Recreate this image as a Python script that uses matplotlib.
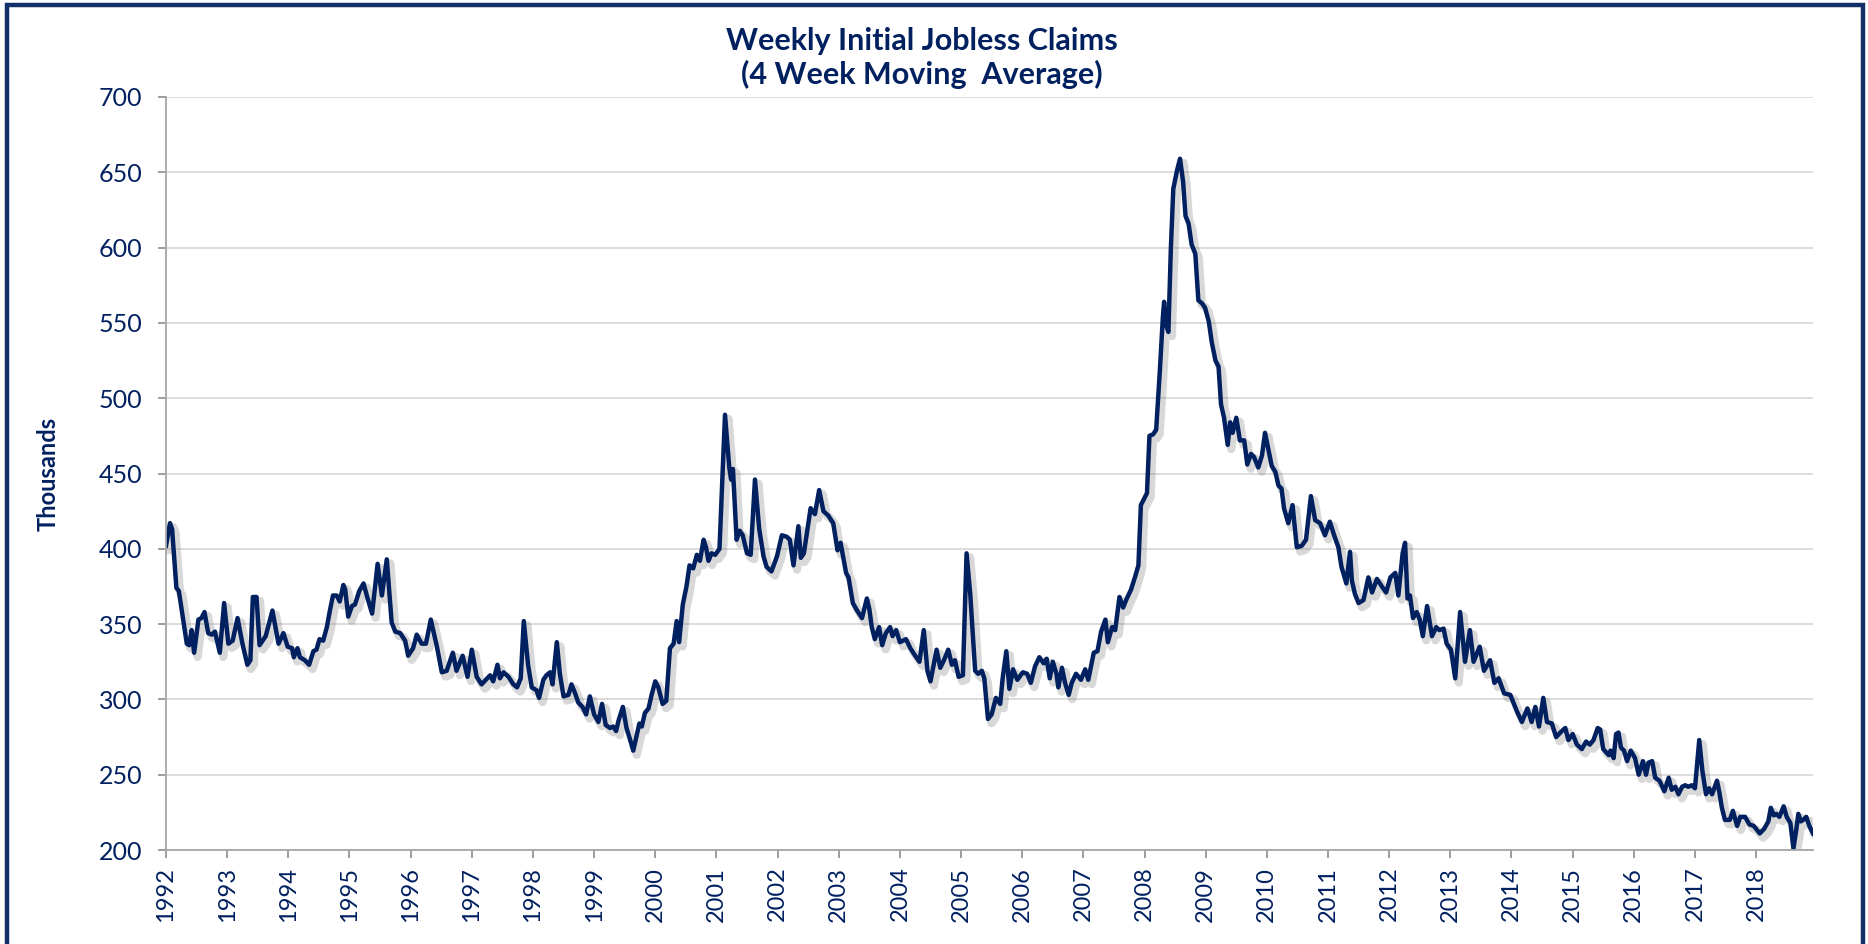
import matplotlib.pyplot as plt
import matplotlib.patheffects as pe
from matplotlib.patches import Rectangle

# 4-week moving average of weekly initial jobless claims (thousands)
dates = [
    1992.00, 1992.065, 1992.10, 1992.17, 1992.21, 1992.34, 1992.38, 1992.42, 1992.46, 1992.53,
    1992.58, 1992.63, 1992.69, 1992.75, 1992.80, 1992.88, 1992.95, 1993.02, 1993.09, 1993.17,
    1993.25, 1993.33, 1993.38, 1993.42, 1993.48, 1993.53, 1993.63, 1993.74, 1993.84, 1993.92,
    1993.99, 1994.06, 1994.09, 1994.15, 1994.19, 1994.27, 1994.34, 1994.41, 1994.46, 1994.51,
    1994.57, 1994.63, 1994.68, 1994.73, 1994.79, 1994.84, 1994.90, 1994.93, 1994.98, 1995.04,
    1995.09, 1995.16, 1995.23, 1995.29, 1995.37, 1995.46, 1995.53, 1995.61, 1995.69, 1995.75,
    1995.83, 1995.91, 1995.96, 1996.04, 1996.10, 1996.18, 1996.25, 1996.33, 1996.43,
    1996.51, 1996.59, 1996.69, 1996.75, 1996.85, 1996.93, 1997.00, 1997.08, 1997.16, 1997.30,
    1997.35, 1997.42, 1997.46, 1997.52, 1997.60, 1997.68, 1997.74, 1997.80, 1997.85, 1997.92,
    1997.98, 1998.06, 1998.10, 1998.17, 1998.22, 1998.28, 1998.32, 1998.39, 1998.44, 1998.50,
    1998.58, 1998.63, 1998.69, 1998.74, 1998.81, 1998.87, 1998.93, 1999.00, 1999.07, 1999.13,
    1999.19, 1999.26, 1999.31, 1999.36, 1999.40, 1999.47, 1999.53, 1999.59, 1999.64, 1999.70,
    1999.74, 1999.78, 1999.83, 1999.89, 1999.94, 2000.00, 2000.05, 2000.12, 2000.18, 2000.24,
    2000.30, 2000.35, 2000.39, 2000.45, 2000.51, 2000.56, 2000.62, 2000.68, 2000.73, 2000.79,
    2000.83, 2000.87, 2000.92, 2000.98, 2001.05,
    2001.14, 2001.21, 2001.24, 2001.27, 2001.33, 2001.38, 2001.43, 2001.50, 2001.56, 2001.63,
    2001.70, 2001.77, 2001.82, 2001.90, 2001.99, 2002.07, 2002.15, 2002.20, 2002.26, 2002.34,
    2002.38, 2002.43, 2002.54, 2002.61, 2002.68, 2002.75, 2002.83, 2002.91, 2002.98, 2003.03,
    2003.12, 2003.16, 2003.23, 2003.30, 2003.38, 2003.46, 2003.50, 2003.54, 2003.59, 2003.66,
    2003.71, 2003.77, 2003.84, 2003.88, 2003.94, 2004.00, 2004.10, 2004.17, 2004.25, 2004.32,
    2004.39, 2004.45, 2004.50, 2004.60, 2004.66, 2004.72, 2004.79, 2004.85, 2004.90, 2004.96,
    2005.03, 2005.09, 2005.15, 2005.23, 2005.28, 2005.34, 2005.38, 2005.44, 2005.50, 2005.57,
    2005.64, 2005.68, 2005.74, 2005.79, 2005.85, 2005.92, 2006.01, 2006.08, 2006.14, 2006.21,
    2006.28, 2006.35, 2006.40, 2006.45, 2006.50, 2006.56, 2006.59, 2006.65, 2006.70, 2006.76,
    2006.81, 2006.88, 2006.96, 2007.03, 2007.08, 2007.17, 2007.23, 2007.29, 2007.36, 2007.40,
    2007.47, 2007.52, 2007.59, 2007.65, 2007.71, 2007.78, 2007.85, 2007.90, 2007.94, 2007.99,
    2008.04, 2008.08, 2008.14, 2008.19, 2008.25, 2008.30, 2008.32, 2008.35, 2008.39, 2008.43,
    2008.47, 2008.53, 2008.58, 2008.63, 2008.67, 2008.72, 2008.77, 2008.83, 2008.88, 2008.94,
    2008.99, 2009.05, 2009.10, 2009.16, 2009.21, 2009.25, 2009.30, 2009.36, 2009.40, 2009.44,
    2009.50, 2009.56, 2009.63, 2009.68, 2009.74, 2009.79, 2009.86, 2009.92, 2009.97, 2010.03,
    2010.08, 2010.14, 2010.19,
    2010.24, 2010.28, 2010.35, 2010.42, 2010.49, 2010.57, 2010.64, 2010.72, 2010.79, 2010.87,
    2010.95, 2011.03, 2011.10, 2011.17, 2011.22, 2011.30, 2011.36, 2011.39, 2011.44, 2011.50,
    2011.58, 2011.66, 2011.72, 2011.80, 2011.88, 2011.95, 2012.02, 2012.10, 2012.15, 2012.22,
    2012.26, 2012.30, 2012.34, 2012.39, 2012.45, 2012.50, 2012.55, 2012.62, 2012.70, 2012.77,
    2012.82, 2012.89, 2012.94, 2013.01, 2013.08, 2013.16, 2013.24, 2013.32, 2013.38, 2013.48,
    2013.55, 2013.65, 2013.72, 2013.79, 2013.88, 2013.98, 2014.09, 2014.17, 2014.26, 2014.33,
    2014.39, 2014.45, 2014.52, 2014.58, 2014.66, 2014.73,
    2014.80, 2014.85, 2014.88, 2014.93, 2015.00, 2015.07, 2015.15, 2015.22, 2015.28, 2015.34,
    2015.41, 2015.45, 2015.50, 2015.59, 2015.62, 2015.67, 2015.71, 2015.75, 2015.79, 2015.84,
    2015.89, 2015.95, 2016.02, 2016.08, 2016.15, 2016.20, 2016.24, 2016.30, 2016.35, 2016.42,
    2016.50, 2016.57, 2016.62, 2016.68, 2016.73, 2016.79, 2016.84, 2016.89, 2016.95, 2017.00,
    2017.07, 2017.12, 2017.18, 2017.23, 2017.28, 2017.36, 2017.40, 2017.44, 2017.49, 2017.57,
    2017.62, 2017.69, 2017.74, 2017.82, 2017.89, 2017.96, 2018.06, 2018.13, 2018.20, 2018.24,
    2018.29, 2018.33, 2018.38, 2018.45, 2018.50, 2018.56, 2018.61, 2018.655, 2018.69, 2018.73,
    2018.77, 2018.82, 2018.87, 2018.93,
]

claims = [
    402, 417, 413, 374, 372, 337, 336, 346, 331, 353,
    354, 358, 344, 343, 345, 331, 364, 337, 339, 354,
    337, 323, 326, 368, 368, 336, 342, 359, 337, 344,
    335, 334, 328, 334, 328, 326, 323, 332, 333, 340,
    339, 348, 359, 369, 369, 365, 376, 373, 355, 362,
    363, 372, 377, 368, 357, 390, 369, 393, 351, 345,
    344, 339, 329, 334, 343, 337, 337, 353, 335,
    318, 319, 331, 319, 329, 315, 333, 315, 310, 316,
    312, 323, 314, 318, 315, 310, 308, 314, 352, 323,
    308, 306, 301, 313, 316, 318, 310, 338, 317, 302,
    303, 310, 304, 298, 295, 290, 302, 290, 285, 297,
    283, 281, 282, 279, 286, 295, 281, 273, 266, 277,
    284, 282, 291, 294, 303, 312, 308, 297, 299, 334,
    337, 352, 338, 363, 375, 389, 387, 396, 392, 406,
    401, 392, 397, 396, 400,
    489, 454, 446, 453, 406, 412, 409, 397, 396, 446,
    413, 395, 388, 385, 395, 409, 408, 406, 389, 415,
    394, 397, 427, 423, 439, 425, 422, 417, 399, 404,
    384, 381, 364, 359, 354, 367, 360, 348, 340, 348,
    336, 344, 348, 342, 346, 338, 340, 334, 329, 325,
    346, 319, 312, 333, 321, 326, 333, 323, 326, 315,
    316, 397, 370, 319, 317, 319, 314, 287, 290, 301,
    297, 314, 332, 307, 320, 313, 318, 317, 311, 322,
    328, 324, 327, 314, 325, 317, 308, 321, 311, 303,
    311, 317, 313, 320, 313, 331, 332, 345, 353, 338,
    348, 346, 368, 361, 367, 373, 382, 389, 429, 433,
    437, 475, 476, 479, 518, 554, 564, 549, 544, 599,
    639, 651, 659, 644, 621, 616, 602, 596, 565, 563,
    560, 551, 537, 525, 521, 496, 487, 469, 484, 477,
    487, 472, 472, 456, 463, 461, 454, 462, 477, 465,
    455, 451, 442,
    440, 427, 417, 429, 401, 402, 406, 435, 419, 417,
    409, 418, 409, 401, 388, 377, 398, 379, 370, 364,
    366, 381, 371, 380, 375, 371, 381, 384, 369, 397,
    404, 367, 369, 354, 358, 353, 342, 362, 342, 348,
    346, 347, 337, 333, 314, 358, 325, 346, 325, 335,
    319, 326, 311, 314, 304, 303, 292, 285, 294, 285,
    295, 282, 301, 285, 284, 275,
    278, 280, 281, 273, 277, 270, 267, 272, 270, 273,
    281, 280, 267, 263, 266, 261, 277, 278, 268, 266,
    259, 266, 261, 250, 259, 250, 258, 259, 248, 246,
    239, 248, 240, 242, 237, 242, 243, 242, 243, 241,
    273, 253, 237, 241, 237, 246, 238, 228, 220, 220,
    226, 216, 222, 222, 217, 216, 211, 214, 219, 228,
    223, 224, 222, 229, 222, 218, 201, 213, 224, 219,
    220, 222, 216, 211,
]

years = list(range(1992, 2019))
y_ticks = list(range(200, 701, 50))

navy = "#002060"

fig = plt.figure(figsize=(18.68, 9.44), dpi=100)
ax = fig.add_axes([166 / 1868, 94 / 944, (1813 - 166) / 1868, (850 - 97) / 944])

# Excel style line with a soft drop shadow
ax.plot(dates, claims, color=navy, linewidth=3.2, solid_joinstyle="round",
        path_effects=[pe.SimpleLineShadow(offset=(2.5, -3), shadow_color="#7f7f7f", alpha=0.3, linewidth=6),
                      pe.Normal()])

ax.set_xlim(1992, 2018.93)
ax.set_ylim(200, 700)
ax.set_xticks(years)
ax.set_xticklabels([str(y) for y in years], rotation=90, fontsize=17, color=navy, family="Lato")
ax.set_yticks(y_ticks)
ax.set_yticklabels([str(v) for v in y_ticks], fontsize=18, color=navy, family="Lato")
ax.tick_params(axis="y", length=6, width=1.2, color="#8c8c8c", pad=11)
ax.tick_params(axis="x", length=6, width=1.2, color="#8c8c8c", pad=6)

ax.grid(axis="y", color="#d9d9d9", linewidth=1.3)
ax.set_axisbelow(True)
for side in ["top", "right"]:
    ax.spines[side].set_visible(False)
for side in ["left", "bottom"]:
    ax.spines[side].set_color("#a6a6a6")
    ax.spines[side].set_linewidth(1.3)

ax.set_ylabel("Thousands", fontsize=17, fontweight="bold", color=navy, family="Lato", labelpad=28)

fig.text(922 / 1868, 1 - 27 / 944, "Weekly Initial Jobless Claims\n(4 Week Moving  Average)",
         ha="center", va="top", fontsize=22, fontweight="bold", color=navy, family="Lato",
         linespacing=1.2)

# dark frame around the whole chart (bottom edge falls outside the picture)
fig.patches.append(Rectangle((7 / 1868, -0.05), (1863 - 7) / 1868, 1.05 - 5 / 944,
                             transform=fig.transFigure, fill=False, edgecolor="#14306b", linewidth=3.2))

plt.savefig("out.png", dpi=100)
